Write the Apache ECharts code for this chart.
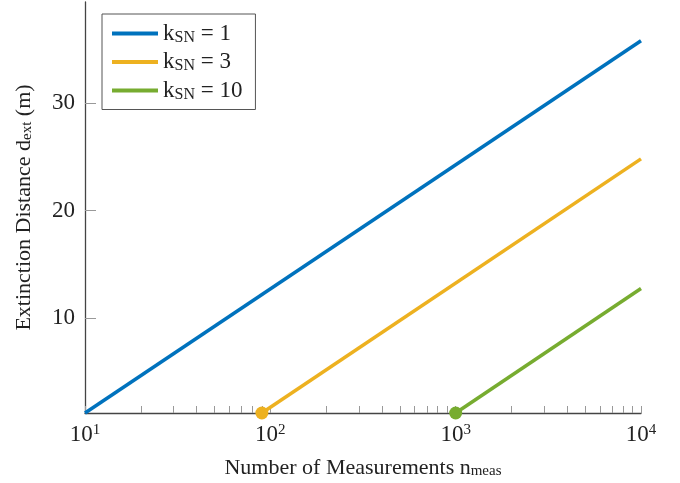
<!DOCTYPE html>
<html>
<head>
<meta charset="utf-8">
<script src="https://cdn.jsdelivr.net/npm/echarts@6/dist/echarts.min.js"></script>
<style>
html,body{margin:0;padding:0;background:#fff;}
#chart{width:680px;height:483px;}
</style>
</head>
<body>
<div id="chart"></div>
<script>
// ---- data ----
const seriesNames = ['k1', 'k3', 'k10'];
const seriesK = ['1', '3', '10'];
const k1Data = [[10, 1.16], [10000, 35.8]];
const k3Data = [[90, 1.16], [10000, 24.8]];
const k10Data = [[1000, 1.16], [10000, 12.75]];
const xMajorTicks = [10, 100, 1000, 10000];
const xAllTicks = [10,20,30,40,50,60,70,80,90,100,200,300,400,500,600,700,800,900,1000,2000,3000,4000,5000,6000,7000,8000,9000,10000];
const yTicks = [10, 20, 30];
const yRange = [1.16, 39.4];
const xRange = [10, 10000];

const colors = ['#0072BD', '#EDB120', '#77AC30'];
const serif = '"Liberation Serif", "DejaVu Serif", serif';

function lineSeries(name, data, color, marker) {
  return {
    name: name,
    type: 'line',
    data: data.map((p, i) => ({
      value: p,
      symbol: (marker && i === 0) ? 'circle' : 'none',
      symbolSize: 13
    })),
    symbol: 'circle',
    showSymbol: true,
    clip: false,
    lineStyle: { color: color, width: 3.5 },
    itemStyle: { color: color },
    emphasis: { disabled: true },
    z: 3
  };
}

const richName = {
  m: { fontFamily: serif, fontSize: 22, color: '#222', lineHeight: 22 },
  s: { fontFamily: serif, fontSize: 15, color: '#222', lineHeight: 10, verticalAlign: 'bottom' }
};

const chart = echarts.init(document.getElementById('chart'), null, { renderer: 'canvas' });
chart.setOption({
  animation: false,
  backgroundColor: '#fff',
  grid: { left: 85, right: 39, top: 2, bottom: 70, containLabel: false, outerBoundsMode: 'none' },
  legend: {
    data: seriesNames,
    orient: 'vertical',
    left: 102,
    top: 14,
    padding: [8, 13, 7, 10],
    itemGap: 5,
    itemWidth: 46,
    itemHeight: 4,
    icon: 'rect',
    backgroundColor: '#fff',
    borderColor: '#555',
    borderWidth: 1,
    borderRadius: 0,
    formatter: function (name) {
      const k = seriesK[seriesNames.indexOf(name)];
      return '{m|k}{s|SN}{m| = ' + k + '}';
    },
    textStyle: {
      fontFamily: serif,
      color: '#222',
      rich: {
        m: { fontFamily: serif, fontSize: 23, color: '#222', lineHeight: 24 },
        s: { fontFamily: serif, fontSize: 16, color: '#222', lineHeight: 11, verticalAlign: 'bottom' }
      }
    }
  },
  xAxis: {
    type: 'log',
    logBase: 10,
    min: xRange[0],
    max: xRange[1],
    name: '{m|Number of Measurements n}{s|meas}',
    nameLocation: 'middle',
    nameGap: 44,
    nameTextStyle: { rich: richName },
    axisLine: { show: true, lineStyle: { color: '#444', width: 1.3 } },
    axisTick: { show: true, inside: true, length: 7, customValues: xAllTicks, lineStyle: { color: '#999', width: 1 } },
    axisLabel: {
      show: true,
      margin: 10,
      customValues: xMajorTicks,
      formatter: function (v) {
        return '{b|10}{p|' + Math.round(Math.log10(v)) + '}';
      },
      rich: {
        b: { fontFamily: serif, fontSize: 23, color: '#222', lineHeight: 24 },
        p: { fontFamily: serif, fontSize: 15, color: '#222', lineHeight: 12, verticalAlign: 'top' }
      }
    },
    splitLine: { show: false },
    minorTick: { show: false }
  },
  yAxis: {
    type: 'value',
    min: yRange[0],
    max: yRange[1],
    name: '{m|Extinction Distance d}{s|ext}{m| (m)}',
    nameLocation: 'middle',
    nameGap: 50,
    nameRotate: 90,
    nameTextStyle: { rich: richName },
    axisLine: { show: true, lineStyle: { color: '#444', width: 1.3 } },
    axisTick: { show: true, inside: true, length: 11, customValues: yTicks, lineStyle: { color: '#999', width: 1 } },
    axisLabel: {
      show: true,
      margin: 10,
      customValues: yTicks,
      fontFamily: serif,
      fontSize: 23,
      color: '#222'
    },
    splitLine: { show: false }
  },
  series: [
    lineSeries(seriesNames[0], k1Data, colors[0], false),
    lineSeries(seriesNames[1], k3Data, colors[1], true),
    lineSeries(seriesNames[2], k10Data, colors[2], true)
  ]
});
</script>
</body>
</html>
